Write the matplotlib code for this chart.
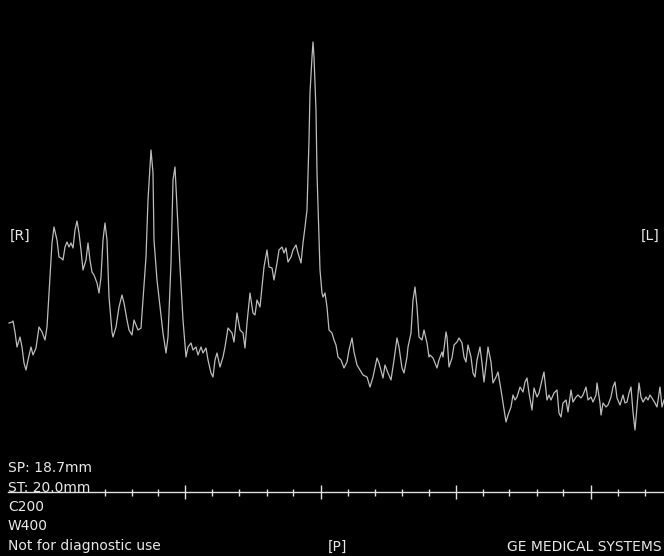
import matplotlib
matplotlib.use('Agg')
import matplotlib.pyplot as plt

# profile: position (px) and trace height (px from top)
position = [9, 12, 13, 15, 17, 20, 22, 24, 26, 28, 31, 33, 36, 39, 42, 45, 47, 50, 52, 54,
            57, 59, 61, 63, 65, 67, 69, 71, 73, 75, 77, 79, 81, 83, 86, 88, 90, 92, 94, 97,
            99, 101, 103, 105, 107, 109, 112, 113, 116, 119, 122, 124, 127, 129, 132, 134, 136, 138, 141, 143,
            146, 148, 151, 153, 154, 157, 160, 163, 166, 168, 171, 173, 175, 177, 180, 183, 186, 188, 191, 193,
            196, 198, 201, 203, 206, 208, 211, 213, 215, 217, 220, 223, 225, 228, 232, 234, 237, 240, 243, 245,
            247, 250, 253, 255, 257, 260, 262, 264, 267, 269, 272, 274, 277, 279, 282, 284, 286, 288, 291, 293,
            296, 298, 301, 303, 305, 307, 309, 310, 312, 313, 314, 316, 317, 319, 320, 322, 323, 325, 327, 329,
            332, 334, 336, 338, 341, 344, 347, 349, 352, 354, 357, 360, 363, 367, 370, 373, 377, 379, 383, 385,
            388, 391, 394, 397, 399, 402, 404, 407, 408, 411, 413, 415, 417, 419, 422, 424, 427, 429, 430, 433,
            435, 437, 439, 442, 443, 446, 447, 449, 452, 454, 457, 459, 462, 464, 466, 468, 471, 473, 475, 477,
            480, 482, 484, 487, 488, 491, 493, 496, 498, 501, 503, 506, 508, 511, 513, 515, 517, 520, 523, 525,
            527, 529, 532, 534, 537, 539, 542, 544, 547, 549, 551, 554, 557, 559, 561, 563, 566, 568, 571, 573,
            576, 578, 581, 583, 586, 588, 591, 593, 596, 597, 600, 601, 603, 606, 608, 611, 613, 615, 617, 620,
            623, 625, 627, 629, 631, 633, 635, 637, 639, 641, 643, 646, 648, 650, 652, 655, 657, 660, 662, 664]
trace = [323, 322, 321, 332, 347, 337, 347, 363, 370, 360, 347, 355, 348, 327, 332, 340, 327, 277, 243, 227,
         240, 257, 258, 260, 247, 242, 247, 243, 248, 230, 221, 233, 250, 270, 260, 243, 260, 272, 275, 283,
         293, 277, 240, 223, 240, 297, 332, 337, 327, 307, 295, 303, 320, 330, 335, 320, 325, 330, 328, 300,
         257, 200, 150, 173, 240, 280, 307, 333, 353, 337, 263, 180, 167, 207, 267, 320, 357, 347, 343, 350,
         347, 355, 347, 353, 348, 360, 373, 377, 360, 353, 367, 357, 347, 328, 333, 342, 313, 330, 333, 348,
         323, 293, 313, 315, 300, 307, 287, 267, 250, 267, 268, 280, 263, 250, 247, 253, 248, 262, 257, 250,
         245, 253, 263, 243, 227, 210, 140, 93, 57, 42, 57, 110, 173, 240, 270, 293, 297, 293, 307, 330,
         333, 340, 345, 357, 360, 368, 362, 350, 338, 352, 365, 370, 375, 377, 387, 377, 358, 363, 378, 365,
         373, 380, 360, 338, 347, 368, 373, 357, 347, 333, 300, 287, 307, 337, 340, 330, 343, 357, 355, 358,
         363, 368, 360, 352, 357, 332, 337, 367, 358, 345, 342, 338, 343, 357, 362, 345, 357, 373, 377, 360,
         347, 363, 382, 357, 347, 362, 383, 377, 372, 390, 403, 422, 415, 407, 395, 400, 397, 387, 392, 382,
         378, 393, 410, 388, 397, 393, 380, 372, 400, 395, 400, 393, 390, 413, 417, 403, 400, 412, 390, 402,
         397, 395, 398, 395, 387, 400, 397, 402, 395, 383, 403, 415, 403, 407, 405, 397, 387, 382, 398, 405,
         395, 403, 402, 393, 387, 412, 430, 407, 383, 397, 402, 397, 400, 395, 398, 403, 407, 387, 407, 400]

# ruler ticks along the bottom scale
major_ticks = [185, 321, 456, 591]
minor_ticks = [105, 132, 158, 212, 239, 267, 293, 348, 375, 402, 429,
               483, 509, 537, 563, 618, 645]

left_lines = ['SP: 18.7mm', 'ST: 20.0mm', 'C200', 'W400', 'Not for diagnostic use']

fig = plt.figure(figsize=(6.64, 5.56), dpi=100, facecolor='black')
ax = fig.add_axes([0, 0, 1, 1])
ax.set_facecolor('black')
ax.set_xlim(0, 664)
ax.set_ylim(556, 0)
ax.axis('off')

ax.plot(position, trace, color='#bdbdbd', lw=0.9)

# scale bar
ruler_y = 492
ax.plot([8, 664], [ruler_y, ruler_y], color='#e0e0e0', lw=1.0)
ax.vlines(major_ticks, ruler_y - 7, ruler_y + 7, color='#e0e0e0', lw=1.0)
ax.vlines(minor_ticks, ruler_y - 3, ruler_y + 4, color='#e0e0e0', lw=1.0)

txt = dict(color='#e8e8e8', fontsize=10, family='DejaVu Sans', va='center')
ax.text(10, 236, '[R]', ha='left', **txt)
ax.text(660, 236, '[L]', ha='right', **txt)
for i, s in enumerate(left_lines):
    ax.text(8, 468 + i * 19.5, s, ha='left', **txt)
ax.text(337, 547, '[P]', ha='center', **txt)
ax.text(662, 547, 'GE MEDICAL SYSTEMS', ha='right', **txt)

fig.savefig('out.png', dpi=100, facecolor='black')
